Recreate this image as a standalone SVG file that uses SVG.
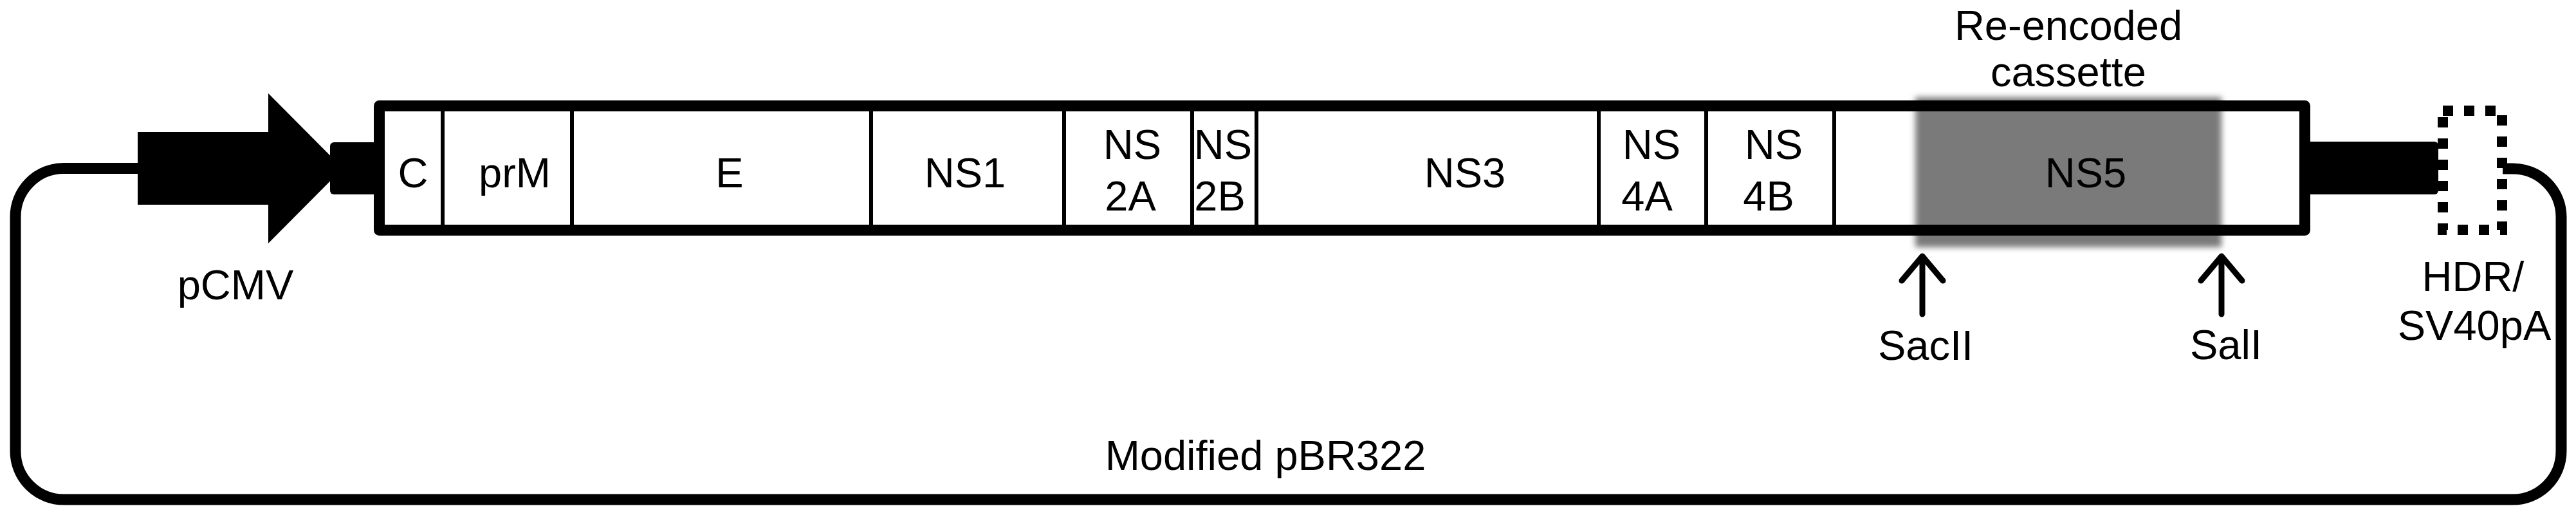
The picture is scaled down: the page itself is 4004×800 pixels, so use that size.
<svg xmlns="http://www.w3.org/2000/svg" width="4004" height="800" viewBox="0 0 4004 800">
<style>
.t{font-family:"Liberation Sans",Arial,Helvetica,sans-serif;font-size:65px;fill:#000;text-anchor:middle}
.div{stroke:#000;stroke-width:6}
.site{fill:none;stroke:#000;stroke-width:9;stroke-linecap:round;stroke-linejoin:round}
</style>
<defs>
<filter id="blur" x="-10%" y="-10%" width="120%" height="120%"><feGaussianBlur stdDeviation="5"/></filter>
</defs>
<rect width="4004" height="800" fill="#fff"/>
<g id="connectors">
<path d="M214,261.5 H99 A75,75 0 0 0 24,336.5 V701 A75,75 0 0 0 99,776 H3906 A75,75 0 0 0 3981,701 V337 A75,75 0 0 0 3906,262 H3890" fill="none" stroke="#000" stroke-width="17"/>
</g>
<g id="pCMV">
<rect x="214" y="205" width="205" height="113" fill="#000"/>
<polygon points="417,145 533,261.5 417,378" fill="#000"/>
<rect x="513" y="221" width="80" height="81" rx="6" fill="#000"/>
<text class="t" x="366" y="465">pCMV</text>
</g>
<g id="terminator">
<rect x="3580" y="220" width="210" height="82" rx="6" fill="#000"/>
</g>
<g id="genome">
<rect x="589.5" y="164.5" width="2993" height="193" fill="#fff"/>
<rect id="cassette-shade" x="2977" y="151" width="476" height="233" fill="#7a7a7a" filter="url(#blur)"/>
<g id="dividers">
<line class="div" x1="688" y1="170" x2="688" y2="352"/>
<line class="div" x1="889" y1="170" x2="889" y2="352"/>
<line class="div" x1="1354" y1="170" x2="1354" y2="352"/>
<line class="div" x1="1654" y1="170" x2="1654" y2="352"/>
<line class="div" x1="1853" y1="170" x2="1853" y2="352"/>
<line class="div" x1="1953" y1="170" x2="1953" y2="352"/>
<line class="div" x1="2485" y1="170" x2="2485" y2="352"/>
<line class="div" x1="2652" y1="170" x2="2652" y2="352"/>
<line class="div" x1="2851" y1="170" x2="2851" y2="352"/>
</g>
<rect x="589.5" y="164.5" width="2993" height="193" fill="none" stroke="#000" stroke-width="17" stroke-linejoin="round"/>
<g id="C"><text class="t" x="642" y="291">C</text></g>
<g id="prM"><text class="t" x="800" y="291">prM</text></g>
<g id="E"><text class="t" x="1134" y="291">E</text></g>
<g id="NS1"><text class="t" x="1500" y="291">NS1</text></g>
<g id="NS2A"><text class="t" x="1760" y="247">NS</text><text class="t" x="1757" y="327">2A</text></g>
<g id="NS2B"><text class="t" x="1901" y="247">NS</text><text class="t" x="1896" y="327">2B</text></g>
<g id="NS3"><text class="t" x="2277" y="291">NS3</text></g>
<g id="NS4A"><text class="t" x="2567" y="247">NS</text><text class="t" x="2560" y="327">4A</text></g>
<g id="NS4B"><text class="t" x="2757" y="247">NS</text><text class="t" x="2749" y="327">4B</text></g>
<g id="NS5"><text class="t" x="3242" y="291">NS5</text></g>
</g>
<g id="cassette-label">
<text class="t" x="3215" y="62">Re-encoded</text>
<text class="t" x="3215" y="134">cassette</text>
</g>
<g id="HDR">
<rect x="3797" y="172" width="92" height="185" fill="none" stroke="#000" stroke-width="16" stroke-dasharray="16 17"/>
<text class="t" x="3844" y="452">HDR/</text>
<text class="t" x="3846" y="528">SV40pA</text>
</g>
<g id="SacII">
<path class="site" d="M2988,488 V398 M2956,436 L2988,398 L3020,436"/>
<text class="t" x="2993" y="559">SacII</text>
</g>
<g id="SalI">
<path class="site" d="M3453,488 V398 M3421,436 L3453,398 L3485,436"/>
<text class="t" x="3460" y="558">SalI</text>
</g>
<g id="backbone-label">
<text class="t" x="1967" y="730">Modified pBR322</text>
</g>
</svg>
